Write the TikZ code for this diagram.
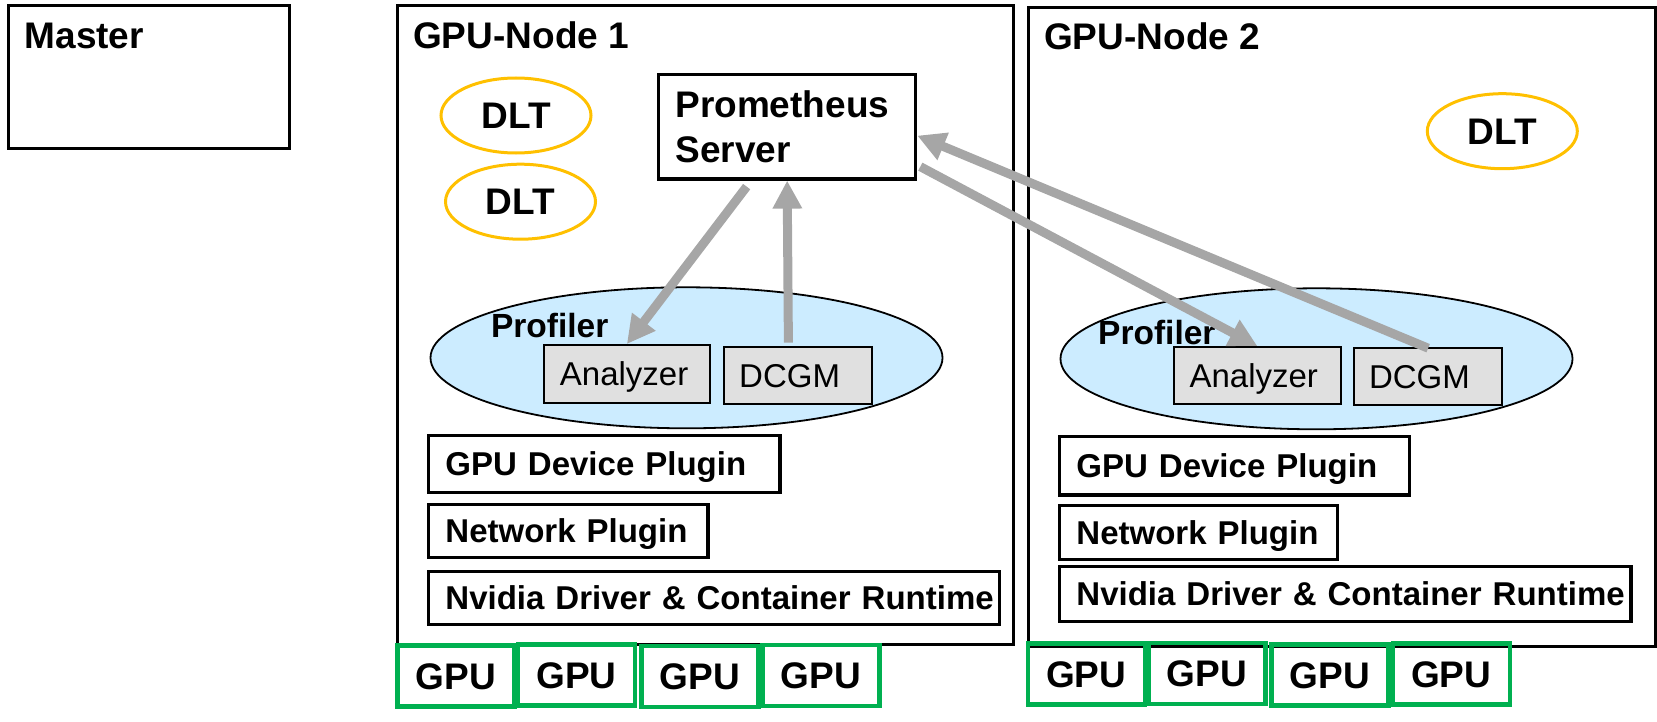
\documentclass[tikz,border=0pt]{standalone}
\usepackage{fontspec}
\setmainfont{Liberation Sans}
\usetikzlibrary{shapes.geometric,arrows.meta}
\definecolor{dltorange}{HTML}{FFC000}
\definecolor{gpugreen}{HTML}{00B050}
\definecolor{proffill}{HTML}{CCECFF}
\definecolor{compfill}{HTML}{E0E0E0}
\definecolor{arrowgray}{HTML}{A6A6A6}
\begin{document}
\begin{tikzpicture}[x=1bp,y=-1bp,
  frame/.style={draw, line width=3.3bp, anchor=north west, inner sep=0},
  title/.style={anchor=base west, inner sep=0, font=\fontsize{37bp}{45bp}\selectfont\bfseries},
  layer/.style={draw, line width=3.3bp, anchor=north west, inner xsep=17bp, inner ysep=0, align=left, text height=23.6bp, text depth=0bp, font=\fontsize{33bp}{40bp}\selectfont\bfseries},
  comp/.style={draw, line width=1.8bp, fill=compfill, anchor=north west, inner ysep=0, align=left, text height=23.6bp, text depth=0bp, font=\fontsize{33bp}{40bp}\selectfont},
  dlt/.style={ellipse, draw=dltorange, line width=3bp, inner sep=0, minimum width=150bp, minimum height=75bp, text height=26.5bp, text depth=0bp, font=\fontsize{37bp}{45bp}\selectfont\bfseries},
  profiler/.style={ellipse, draw, line width=1.8bp, fill=proffill, inner sep=0, minimum width=512bp, minimum height=141bp},
  proftext/.style={anchor=base west, inner sep=0, font=\fontsize{33.5bp}{40bp}\selectfont\bfseries},
  gpu/.style={draw=gpugreen, line width=4.2bp, inner sep=0, minimum width=117bp, minimum height=61bp, text height=26.5bp, text depth=0bp, font=\fontsize{37bp}{45bp}\selectfont\bfseries},
  flow/.style={draw=arrowgray, line width=9bp, -{Triangle[length=28bp,width=28bp]}},
]
\useasboundingbox (0,0) rectangle (1657,722);

% frames
\node[frame, minimum width=280.5bp, minimum height=142.7bp] (master) at (7,4) {};
\node[title] (mastertitle) at (24.5,48.3) {Master};
\node[frame, minimum width=616bp, minimum height=638.7bp] (node1) at (396,4) {};
\node[title] (node1title) at (413,48.3) {GPU-Node 1};
\node[frame, minimum width=626.5bp, minimum height=639bp] (node2) at (1027,6) {};
\node[title] (node2title) at (1044,50) {GPU-Node 2};

% DLT
\node[dlt] (dlt1) at (516,115.5) {DLT};
\node[dlt] (dlt2) at (520.5,201.7) {DLT};
\node[dlt] (dlt3) at (1502.3,131.2) {DLT};

% Prometheus
\node[layer, font=\fontsize{37bp}{45bp}\selectfont\bfseries, text width=223.6bp, inner xsep=16.7bp, minimum height=104.6bp, text height=26.5bp, text depth=45bp] (prom) at (657,72.7) {Prometheus\\Server};

% profilers
\node[profiler] (prof1) at (686.5,357.8) {};
\node[profiler] (prof2) at (1316.5,358.8) {};
\node[proftext] (proft1) at (490.8,337) {Profiler};
\node[proftext] (proft2) at (1098,344) {Profiler};

\node[comp, inner xsep=16bp, text width=134bp, minimum height=58.3bp] (an1) at (543,344) {Analyzer};
\node[comp, inner xsep=15bp, text width=118bp, minimum height=57.3bp] (dc1) at (723.3,346) {DCGM};
\node[comp, inner xsep=16bp, text width=135.4bp, minimum height=57.3bp] (an2) at (1172.7,346) {Analyzer};
\node[comp, inner xsep=15bp, text width=118.3bp, minimum height=57.3bp] (dc2) at (1353.1,346.7) {DCGM};

% layers node 1
\node[layer, text width=317.5bp, minimum height=57bp] (gdp1) at (426.8,434) {GPU Device Plugin};
\node[layer, text width=245.5bp, minimum height=53.3bp] (np1) at (426.8,502.7) {Network Plugin};
\node[layer, text width=537bp, minimum height=52.7bp] (nv1) at (426.8,570) {\mbox{Nvidia Driver \& Container Runtime}};
% layers node 2
\node[layer, text width=316.2bp, minimum height=58.3bp] (gdp2) at (1057.8,435) {GPU Device Plugin};
\node[layer, text width=244.2bp, minimum height=53.7bp] (np2) at (1057.8,504) {Network Plugin};
\node[layer, text width=537.6bp, minimum height=55bp] (nv2) at (1057.8,565) {\mbox{Nvidia Driver \& Container Runtime}};

% GPUs
\node[gpu] (g11) at (455.9,676) {GPU};
\node[gpu] (g12) at (576.5,675) {GPU};
\node[gpu] (g13) at (700,676.3) {GPU};
\node[gpu] (g14) at (821,675.7) {GPU};
\node[gpu] (g21) at (1086.2,673.9) {GPU};
\node[gpu] (g22) at (1206.9,673.3) {GPU};
\node[gpu] (g23) at (1330,675) {GPU};
\node[gpu] (g24) at (1451.2,674) {GPU};

% arrows
\draw[flow] ([xshift=-40.5bp,yshift=-6bp]prom.south) -- (an1.north);
\draw[flow] ([xshift=-9.8bp,yshift=3.3bp]dc1.north) -- (prom.south);
\draw[flow] ([xshift=3bp,yshift=-40bp]prom.east) -- (an2.north);
\draw[flow] ([yshift=-1.5bp]dc2.north) -- ([yshift=-9bp]prom.east);
\end{tikzpicture}
\end{document}
